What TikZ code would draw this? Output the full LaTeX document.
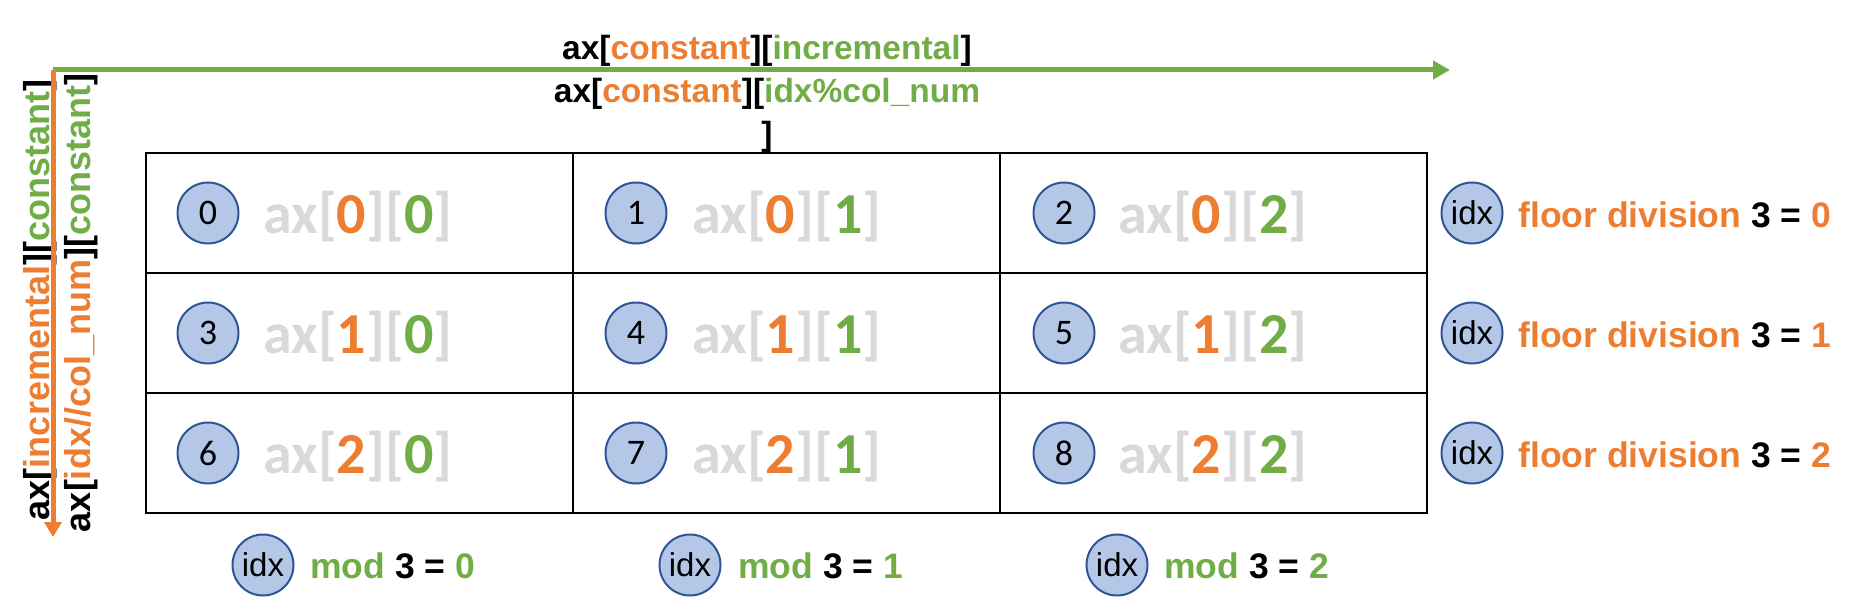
\documentclass[tikz,border=0pt]{standalone}
\usepackage{fontspec}
\setmainfont{Liberation Sans}
\newfontfamily\calfont{Carlito}
\usepackage{xcolor}
\usetikzlibrary{arrows.meta}
\definecolor{axorange}{HTML}{ED7D31}
\definecolor{axgreen}{HTML}{70AD47}
\definecolor{axgray}{HTML}{D9D9D9}
\definecolor{circfill}{HTML}{B4C7E7}
\definecolor{circline}{HTML}{2F5597}
\newcommand{\axref}[2]{ax[\textcolor{axorange}{#1}][\textcolor{axgreen}{#2}]}
\newcommand{\axpair}[2]{ax[\textcolor{axorange}{#1}][\textcolor{axgreen}{#2}}

\begin{document}
\begin{tikzpicture}[x = 0.5pt, y = -0.5pt,
    idxcirc/.style = {circle, draw = circline, fill = circfill, line width = 1pt, minimum size = 30.5pt, inner sep = 0pt},
    cellnum/.style = {idxcirc, font = \calfont\fontsize{18}{18}\selectfont},
    idxname/.style = {idxcirc, font = \fontsize{16.5}{16.5}\selectfont},
    cellref/.style = {anchor = base west, inner sep = 0pt, text = axgray, font = \calfont\bfseries\fontsize{29}{29}\selectfont},
    rulefont/.style = {anchor = base west, inner sep = 0pt, font = \bfseries\fontsize{17.75}{17.75}\selectfont},
    axisfont/.style = {anchor = base, inner sep = 0pt, font = \bfseries\fontsize{18}{18}\selectfont},
    topfont/.style = {anchor = base, inner sep = 0pt, font = \bfseries\fontsize{16.75}{16.75}\selectfont}]
        \useasboundingbox (0,0) rectangle (1856,610);

        % axis labels
        \node[axisfont, rotate = 90] (rowlab) at (49,300) {\axref{incremental}{constant}};
        \node[axisfont, rotate = 90] (rowidx) at (90,303) {\axref{idx//col\_num}{constant}};
        \node[topfont] (collab) at (767,60) {\axref{constant}{incremental}};
        \node[topfont] (colidx) at (767,103) {\axpair{constant}{idx\%col\_num}};
        \node[topfont] (colbr) at (767,146) {]};

        % axis arrows
        \coordinate (origin) at (53,70);
        \coordinate (colend) at (1450,70);
        \coordinate (rowend) at (53,537);
        \draw[axgreen, line width = 2.5pt, -{Triangle[length = 8.5pt, width = 9pt]}] (origin) -- (colend);
        \draw[axorange, line width = 2.5pt, -{Triangle[length = 7.5pt, width = 8.5pt]}] (origin) -- (rowend);

        % table
        \draw[line width = 1pt] (146,153) rectangle (1427,513);
        \draw[line width = 1pt] (573,153) -- (573,513) (1000,153) -- (1000,513);
        \draw[line width = 1pt] (146,273) -- (1427,273) (146,393) -- (1427,393);

        \begin{scope}
        \node[cellnum] (c0) at (208,213) {0};
        \node[cellref] (a0) at (263,233) {\axref{0}{0}};
        \node[cellnum] (c1) at (636,213) {1};
        \node[cellref] (a1) at (692,233) {\axref{0}{1}};
        \node[cellnum] (c2) at (1064,213) {2};
        \node[cellref] (a2) at (1118,233) {\axref{0}{2}};
        \node[idxname] (r0) at (1472,213) {idx};
        \node[rulefont, text = axorange] (f0) at (1518,227) {floor division \textcolor{black}{3 =} 0};
        \end{scope}

        \begin{scope}[shift = {(0,120)}]
        \node[cellnum] (c3) at (208,213) {3};
        \node[cellref] (a3) at (263,233) {\axref{1}{0}};
        \node[cellnum] (c4) at (636,213) {4};
        \node[cellref] (a4) at (692,233) {\axref{1}{1}};
        \node[cellnum] (c5) at (1064,213) {5};
        \node[cellref] (a5) at (1118,233) {\axref{1}{2}};
        \node[idxname] (r1) at (1472,213) {idx};
        \node[rulefont, text = axorange] (f1) at (1518,227) {floor division \textcolor{black}{3 =} 1};
        \end{scope}

        \begin{scope}[shift = {(0,240)}]
        \node[cellnum] (c6) at (208,213) {6};
        \node[cellref] (a6) at (263,233) {\axref{2}{0}};
        \node[cellnum] (c7) at (636,213) {7};
        \node[cellref] (a7) at (692,233) {\axref{2}{1}};
        \node[cellnum] (c8) at (1064,213) {8};
        \node[cellref] (a8) at (1118,233) {\axref{2}{2}};
        \node[idxname] (r2) at (1472,213) {idx};
        \node[rulefont, text = axorange] (f2) at (1518,227) {floor division \textcolor{black}{3 =} 2};
        \end{scope}

        % column rules
        \node[idxname] (m0) at (263,565) {idx};
        \node[rulefont, text = axgreen] (g0) at (310,578) {mod \textcolor{black}{3 =} 0};
        \node[idxname] (m1) at (690,565) {idx};
        \node[rulefont, text = axgreen] (g1) at (738,578) {mod \textcolor{black}{3 =} 1};
        \node[idxname] (m2) at (1117,565) {idx};
        \node[rulefont, text = axgreen] (g2) at (1164,578) {mod \textcolor{black}{3 =} 2};
    \end{tikzpicture}
\end{document}
